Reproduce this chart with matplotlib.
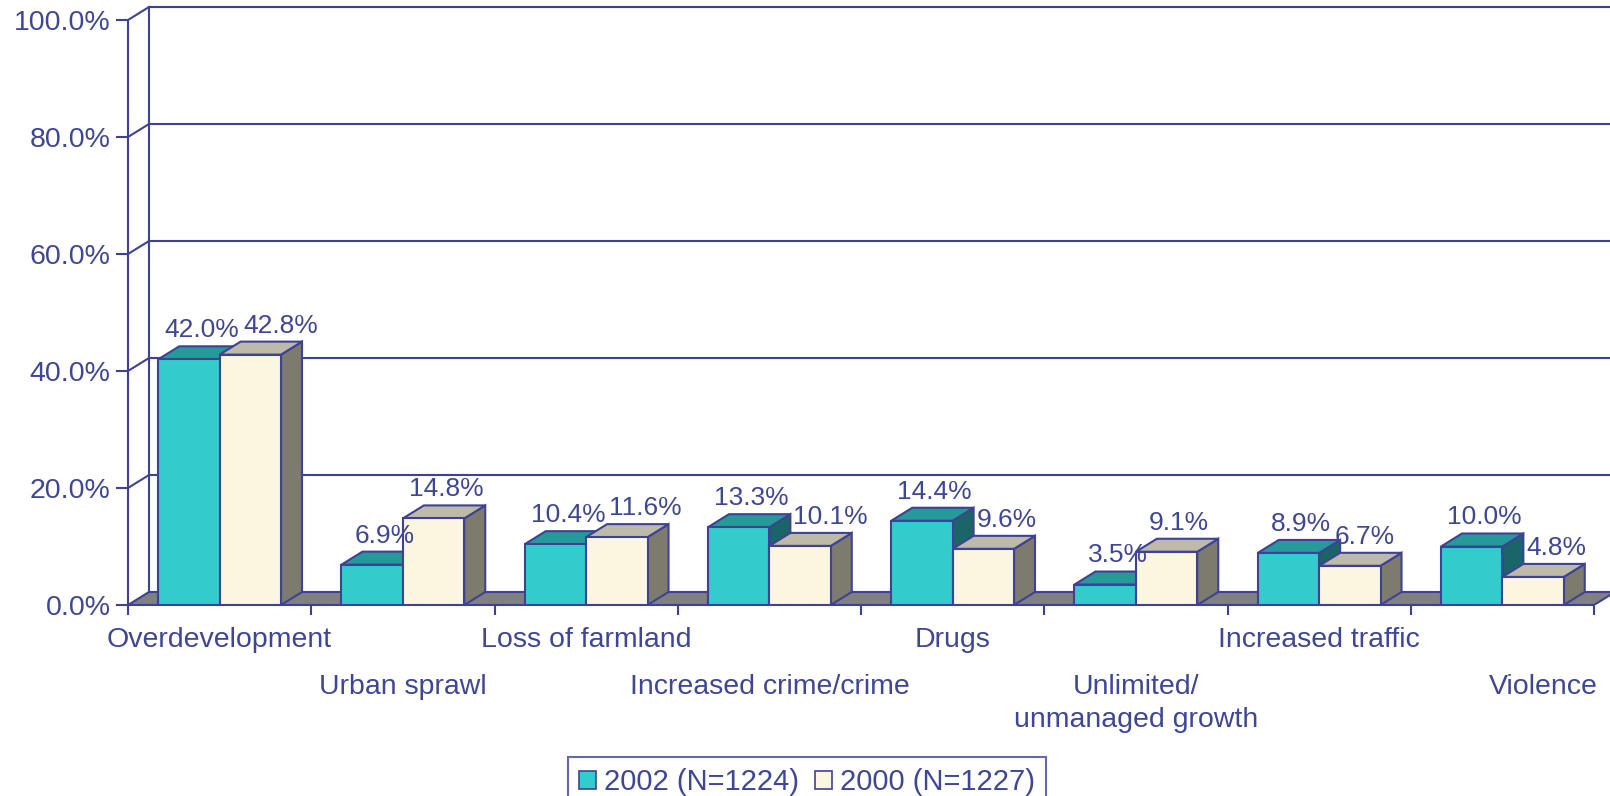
import matplotlib
matplotlib.use("Agg")
import matplotlib.pyplot as plt
from matplotlib.patches import Polygon, Rectangle, Patch

# ---------------- data ----------------
categories = ["Overdevelopment", "Urban sprawl", "Loss of farmland",
              "Increased crime/crime", "Drugs", "Unlimited/\nunmanaged growth",
              "Increased traffic", "Violence"]
values_2002 = [42.0, 6.9, 10.4, 13.3, 14.4, 3.5, 8.9, 10.0]
values_2000 = [42.8, 14.8, 11.6, 10.1, 9.6, 9.1, 6.7, 4.8]
series_names = ["2002 (N=1224)", "2000 (N=1227)"]
y_ticks = [0, 20, 40, 60, 80, 100]

# ---------------- style ----------------
plt.rcParams['font.family'] = ['Liberation Sans', 'DejaVu Sans']
NAVY = '#3F4294'
TXT = '#3F4696'
FS_CAT = 20.5
FS_TICK = 20.5
FS_VAL = 19
teal = dict(front='#33CCCC', top='#269999', side='#1A6666')
cream = dict(front='#FBF6E0', top='#BEBAA9', side='#7D7A6E')
FLOOR = '#808080'
LW = 1.5

W, H = 1610, 796
DPI = 100
fig = plt.figure(figsize=(W / DPI, H / DPI), dpi=DPI)
left_px, axis_end_px, base_px, top100_px = 128, 1594, 605, 20
n = len(categories)
ppu = (axis_end_px - left_px) / n          # pixels per category
ppp = (base_px - top100_px) / 100.0        # pixels per percent
ax = fig.add_axes([left_px / W, (H - base_px) / H, (W - left_px) / W, base_px / H])
ax.set_xlim(0, (W - left_px) / ppu)
ax.set_ylim(0, base_px / ppp)

# depth of the 3-D effect in data units
dx = 21 / ppu
dy = 13 / ppp

# spines / ticks
for s in ['top', 'right']:
    ax.spines[s].set_visible(False)
for s in ['left', 'bottom']:
    ax.spines[s].set_color(NAVY)
    ax.spines[s].set_linewidth(LW)
ax.spines['left'].set_bounds(0, 100)
ax.spines['bottom'].set_bounds(0, n)
ax.set_yticks(y_ticks)
ax.set_yticklabels([f"{v:.1f}%" for v in y_ticks])
ax.set_xticks(range(n + 1))
ax.set_xticklabels([])
ax.tick_params(axis='y', direction='out', length=8.5, width=LW, color=NAVY,
               labelcolor=TXT, labelsize=FS_TICK, pad=4)
ax.tick_params(axis='x', direction='out', length=7, width=LW, color=NAVY)
ax.set_facecolor('none')

# back wall: vertical edge, gridlines and side-wall diagonals
xmax = ax.get_xlim()[1]
ax.plot([dx, dx], [dy, 100 + dy], color=NAVY, lw=LW, zorder=1, solid_capstyle='butt')
for v in y_ticks[1:]:
    ax.plot([dx, xmax + 1], [v + dy, v + dy], color=NAVY, lw=LW, zorder=1)
    ax.plot([0, dx], [v, v + dy], color=NAVY, lw=LW, zorder=1)

# floor
ax.add_patch(Polygon([(0, 0), (n, 0), (n + dx, dy), (dx, dy)], closed=True,
                     facecolor=FLOOR, edgecolor=NAVY, lw=LW, zorder=2,
                     joinstyle='miter'))

bw = 0.335


def bar3d(x0, h, col, z):
    kw = dict(edgecolor=NAVY, lw=LW, zorder=z, joinstyle='miter')
    ax.add_patch(Polygon([(x0 + bw, 0), (x0 + bw + dx, dy), (x0 + bw + dx, h + dy),
                          (x0 + bw, h)], facecolor=col['side'], **kw))
    ax.add_patch(Polygon([(x0, h), (x0 + bw, h), (x0 + bw + dx, h + dy),
                          (x0 + dx, h + dy)], facecolor=col['top'], **kw))
    ax.add_patch(Rectangle((x0, 0), bw, h, facecolor=col['front'], **kw))


z = 3
label_pairs = []
for i in range(n):
    c = i + 0.5
    pair = []
    for x0, v, col in [(c - bw, values_2002[i], teal), (c, values_2000[i], cream)]:
        bar3d(x0, v, col, z)
        z += 1
        a = ax.annotate(f"{v:.1f}%", xy=(x0 + bw / 2 + dx / 2, v + dy), xytext=(1.5, 6.5),
                        textcoords='offset points', ha='center', va='baseline',
                        fontsize=FS_VAL, color=TXT, zorder=100, annotation_clip=False)
        pair.append(a)
    label_pairs.append((i, pair))

# nudge the second label of a pair to the right when it collides with the first
# label or sits well inside the taller neighbouring bar's side face
fig.canvas.draw()
r = fig.canvas.get_renderer()
for i, (a_t, a_c) in label_pairs:
    bt = a_t.get_window_extent(r)
    bc = a_c.get_window_extent(r)
    need = 0.0
    if bc.x0 < bt.x1 + 4 and bc.y1 > bt.y0 and bc.y0 < bt.y1:
        need = max(need, bt.x1 + 4 - bc.x0)
    tx, ty_back = ax.transData.transform((i + 0.5 + dx, values_2002[i] + dy))
    label_mid = 0.5 * (bc.y0 + bc.y1)
    if label_mid < ty_back - 6 and bc.x0 < tx + 3:
        need = max(need, tx + 3 - bc.x0)
    if need > 0:
        ox, oy = a_c.xyann
        a_c.xyann = (ox + need * 72 / DPI, oy)

# category labels in two staggered rows
row1 = (base_px - 627) / ppp
row2 = (base_px - 674) / ppp
for i, lab in enumerate(categories):
    y = row1 if i % 2 == 0 else row2
    if i == n - 1:
        ax.text(n + 0.02, y, lab, ha='right', va='top', fontsize=FS_CAT, color=TXT,
                clip_on=False, linespacing=1.35)
    else:
        ax.text(i + 0.5, y, lab, ha='center', va='top', fontsize=FS_CAT, color=TXT,
                clip_on=False, linespacing=1.35, multialignment='center')

# legend
handles = [Patch(facecolor=teal['front'], edgecolor=NAVY, lw=1.2, label=series_names[0]),
           Patch(facecolor=cream['front'], edgecolor=NAVY, lw=1.2, label=series_names[1])]
leg = fig.legend(handles=handles, loc='upper left', bbox_to_anchor=(568 / W, 1 - 757 / H),
                 ncol=2, fontsize=21, frameon=True, fancybox=False, borderaxespad=0,
                 handlelength=0.58, handleheight=0.58, handletextpad=0.27,
                 columnspacing=0.55, borderpad=0.38)
for t in leg.get_texts():
    t.set_color(TXT)
fr = leg.get_frame()
fr.set_edgecolor(NAVY)
fr.set_linewidth(LW)

fig.savefig("out.png", dpi=DPI)
